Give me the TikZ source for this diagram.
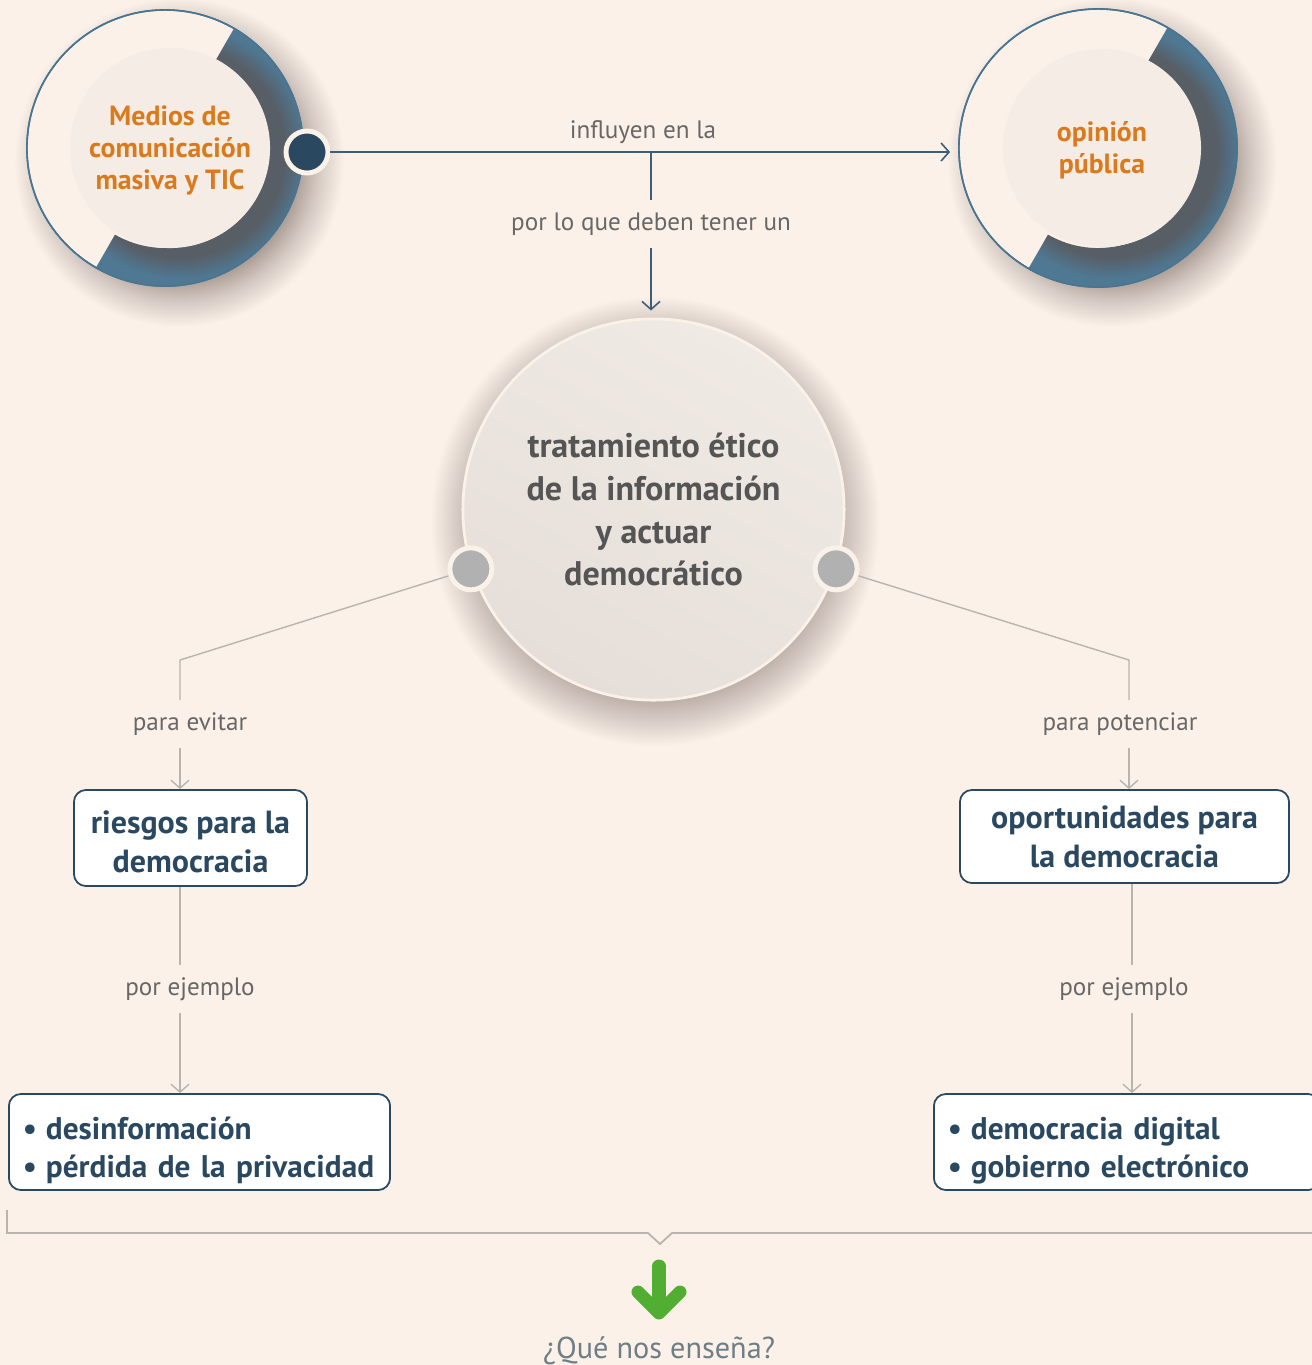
\documentclass[tikz,border=0pt]{standalone}
\usepackage{fontspec}
\setmainfont{PT Sans}
\usetikzlibrary{arrows.meta}

\definecolor{fondo}{HTML}{FBF1E8}
\definecolor{banda}{HTML}{4F7893}
\definecolor{bandaosc}{HTML}{575E66}
\definecolor{aroazul}{HTML}{4A7591}
\definecolor{discoc}{HTML}{F4ECE5}
\definecolor{navy}{HTML}{2B4861}
\definecolor{naranja}{HTML}{DA7A1D}
\definecolor{gristexto}{HTML}{555555}
\definecolor{etiq}{HTML}{676767}
\definecolor{lineagris}{HTML}{BAB4AF}
\definecolor{lineaazul}{HTML}{3F5D76}
\definecolor{verde}{HTML}{52AE33}
\definecolor{pregunta}{HTML}{6E7E86}
\definecolor{centroA}{HTML}{F0EAE5}
\definecolor{centroB}{HTML}{E5DED9}
\definecolor{puntogris}{HTML}{B1B1B1}
\definecolor{crema}{HTML}{FAF2E9}
\definecolor{sombra}{HTML}{A3958E}
\definecolor{sombramed}{HTML}{D5CAC3}

% sombras suaves
\pgfdeclareradialshading{sombraC}{\pgfpoint{0bp}{0bp}}{color(0bp)=(sombra); color(17.8bp)=(sombra); color(22bp)=(sombramed); color(25bp)=(fondo); color(50bp)=(fondo)}
\pgfdeclareradialshading{sombraA}{\pgfpoint{0bp}{0bp}}{color(0bp)=(sombra); color(17.4bp)=(sombra); color(21.2bp)=(sombramed); color(25bp)=(fondo); color(50bp)=(fondo)}
\pgfdeclareradialshading{sombraB}{\pgfpoint{0bp}{0bp}}{color(0bp)=(bandaosc); color(16.4bp)=(bandaosc); color(19.8bp)=(banda); color(50bp)=(banda)}

\begin{document}
\begin{tikzpicture}[x=0.01cm,y=-0.01cm,
    flecha/.style={-{Straight Barb[length=0.8mm,width=1.8mm]}},
    conazul/.style={draw=lineaazul,line width=0.45pt},
    congris/.style={draw=lineagris,line width=0.4pt},
    aro/.style={circle,draw=aroazul,line width=0.45pt,minimum size=2.76cm,inner sep=0pt},
    disco/.style={circle,fill=discoc,minimum size=2cm,inner sep=0pt,align=center,
        text=naranja,font=\bfseries\fontsize{7.9}{9.1}\selectfont},
    punto/.style={circle,draw=crema,line width=1.4pt,minimum size=0.42cm,inner sep=0pt},
    centro/.style={circle,minimum size=3.81cm,inner sep=0pt,draw=crema,line width=0.8pt,
        top color=centroA,bottom color=centroB,shading angle=-30,align=center,
        text=gristexto,font=\bfseries\fontsize{9.7}{12.2}\selectfont},
    caja/.style={rectangle,rounded corners=0.12cm,draw=navy,line width=0.5pt,fill=white,
        text=navy,font=\bfseries\fontsize{9.1}{11.1}\selectfont,inner sep=0pt},
    lista/.style={caja,font=\bfseries\fontsize{8.9}{10.8}\selectfont,align=left,
        inner xsep=0.14cm,minimum height=0.96cm},
    etiqueta/.style={text=etiq,font=\fontsize{7.15}{8.5}\selectfont}]

% Fondo
\fill[fondo] (0,0) rectangle (1312,1365);
\useasboundingbox (0,0) rectangle (1312,1365);

% Sombras
\shade[shading=sombraA] (179,162) circle[radius=165];
\shade[shading=sombraA] (1112,162) circle[radius=165];
\shade[shading=sombraC] (655,521) circle[radius=225];

% Medios de comunicacion
\node[aro,fill=fondo] (aroL) at (165,148) {};
\begin{scope}
  \clip (165,148) ++(-60:138) arc[start angle=-60,end angle=120,radius=138]
      -- ++(120:-38) arc[start angle=120,end angle=-60,radius=100] -- cycle;
  \shade[shading=sombraB] (180,152) circle[radius=160];
\end{scope}
\node[aro] at (aroL) {};
\node[disco] (medios) at (170,148) {\begin{tabular}{@{}c@{}}\rule{0pt}{8.1pt}Medios de\\comunicación\\masiva y TIC\end{tabular}};
\node[punto,fill=navy] (pm) at (307,152) {};

% Opinion publica
\node[aro,fill=fondo,minimum size=2.78cm] (aroR) at (1098,148) {};
\begin{scope}
  \clip (1098,148) ++(-60:139) arc[start angle=-60,end angle=120,radius=139]
      -- ++(120:-39) arc[start angle=120,end angle=-60,radius=100] -- cycle;
  \shade[shading=sombraB] (1112,152) circle[radius=160];
\end{scope}
\node[aro,minimum size=2.78cm] at (aroR) {};
\node[disco,minimum size=1.98cm] (opinion) at (1102,148) {\begin{tabular}{@{}c@{}}\rule{0pt}{8.1pt}opinión\\pública\end{tabular}};

% Flecha superior
\node[etiqueta] (t1) at (643,132) {influyen en la};
\draw[conazul,flecha,shorten >=0.08cm] (pm) -- (pm -| aroR.west);

% Centro
\node[centro] (centro) at (653.5,509.5) {tratamiento ético\\de la información\\y actuar\\democrático};
\node[etiqueta] (t2) at (651,224) {por lo que deben tener un};
\coordinate (cj) at (t2 |- pm);
\draw[conazul] (cj) -- (t2.north);
\draw[conazul,flecha,shorten >=0.07cm] (t2.south) -- (t2.south |- centro.north);
\node[punto,fill=puntogris] (gL) at (centro.198) {};
\node[punto,fill=puntogris] (gR) at (centro.-18) {};

% Rama izquierda
\coordinate (kL) at (180,660);
\node[etiqueta] (t3) at (190,724) {para evitar};
\node[caja,minimum width=2.33cm,minimum height=0.96cm,align=center] (riesgos) at (190.5,838) {\rule{0pt}{8.9pt}riesgos para la\\democracia};
\draw[congris] (gL) -- (kL) -- (kL |- t3.north);
\draw[congris,flecha] (kL |- t3.south) -- (kL |- riesgos.north);
\node[etiqueta] (t5) at (190,989) {por ejemplo};
\node[lista,text width=3.53cm] (lista1) at (199.5,1142)
    {\rule{0pt}{1.25em}\makebox[0.23cm][l]{\textbullet}desinformación\\\makebox[0.23cm][l]{\textbullet}pérdida de la privacidad};
\draw[congris] (kL |- riesgos.south) -- (kL |- t5.north);
\draw[congris,flecha] (kL |- t5.south) -- (kL |- lista1.north);

% Rama derecha
\coordinate (kR) at (1129,660);
\coordinate (kR2) at (1132,900);
\node[etiqueta] (t4) at (1120,724) {para potenciar};
\node[caja,minimum width=3.29cm,minimum height=0.93cm,align=center] (oport) at (1124.5,836.5) {oportunidades para\\la democracia};
\draw[congris] (gR) -- (kR) -- (kR |- t4.north);
\draw[congris,flecha] (kR |- t4.south) -- (kR |- oport.north);
\node[etiqueta] (t6) at (1124,989) {por ejemplo};
\node[lista,text width=3.58cm] (lista2) at (1127,1142)
    {\rule{0pt}{1.25em}\makebox[0.23cm][l]{\textbullet}democracia digital\\\makebox[0.23cm][l]{\textbullet}gobierno electrónico};
\draw[congris] (kR2 |- oport.south) -- (kR2 |- t6.north);
\draw[congris,flecha] (kR2 |- t6.south) -- (kR2 |- lista2.north);

% Cierre
\draw[congris,line width=0.5pt] (7,1210) -- (7,1233) -- (648,1233) -- (660,1244) -- (672,1233) -- (1312,1233);
\draw[verde,line width=3.7pt,line cap=round,line join=round] (659,1266) -- (659,1312);
\draw[verde,line width=3.7pt,line cap=round,line join=round] (638,1292) -- (659,1313) -- (680,1292);
\node[text=pregunta,font=\fontsize{8.6}{10}\selectfont] (q) at (659,1351) {¿Qué nos enseña?};

\end{tikzpicture}
\end{document}
